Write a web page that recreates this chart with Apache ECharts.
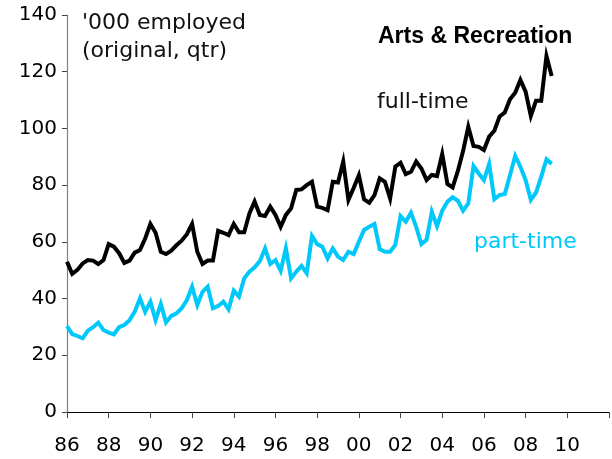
<!DOCTYPE html>
<html>
<head>
<meta charset="utf-8">
<script src="https://cdn.jsdelivr.net/npm/echarts@6/dist/echarts.min.js"></script>
<style>
  html, body { margin: 0; padding: 0; background: #fff; }
  #chart { width: 612px; height: 459px; }
</style>
</head>
<body>
<div id="chart"></div>
<script>
// Arts & Recreation employment, '000 persons, quarterly (original series)
const firstYear = 1986;

const fullTime = [
  53.0, 48.7, 50.1, 52.4, 53.6, 53.4, 52.2, 53.6, 59.2, 58.3,
  56.0, 52.6, 53.4, 56.2, 57.1, 61.2, 66.3, 63.2, 56.5, 55.7,
  56.9, 58.8, 60.4, 62.7, 66.3, 56.5, 52.2, 53.4, 53.4, 63.9,
  63.2, 62.4, 66.3, 63.4, 63.4, 70.0, 74.2, 69.5, 69.1, 72.4,
  69.5, 65.3, 69.5, 71.8, 78.3, 78.5, 80.0, 81.2, 72.4, 72.0,
  71.2, 81.2, 80.9, 88.3, 74.8, 79.0, 83.5, 75.0, 73.8, 76.5,
  82.4, 81.2, 75.3, 86.5, 87.9, 83.9, 84.7, 88.3, 85.9, 81.8,
  83.6, 83.2, 91.0, 80.4, 79.2, 85.0, 92.0, 100.6, 93.8, 93.5,
  92.4, 97.1, 99.2, 104.2, 105.6, 110.3, 112.6, 117.1, 113.0, 104.4,
  109.8, 109.8, 125.5, 118.5
];

const partTime = [
  30.3, 27.5, 26.8, 26.0, 28.7, 29.9, 31.5, 28.9, 28.0, 27.4,
  29.9, 30.7, 32.4, 35.4, 40.1, 35.3, 38.9, 32.4, 38.1, 31.6,
  33.9, 34.8, 36.6, 39.5, 44.2, 37.7, 42.4, 44.2, 36.6, 37.4,
  38.9, 36.2, 42.8, 40.7, 47.1, 49.5, 51.0, 53.2, 57.7, 52.2,
  53.6, 49.8, 57.7, 47.1, 49.5, 51.5, 48.9, 62.1, 59.2, 58.3,
  54.2, 57.7, 54.8, 53.6, 56.5, 55.7, 60.0, 64.2, 65.3, 66.3,
  57.4, 56.5, 56.5, 58.9, 69.1, 67.1, 70.3, 65.3, 59.2, 60.7,
  70.6, 65.5, 71.0, 74.2, 75.7, 74.5, 71.0, 73.6, 86.7, 84.1,
  81.8, 87.5, 75.0, 76.5, 76.9, 83.5, 90.3, 86.5, 81.8, 74.8,
  77.4, 83.0, 89.1, 87.5
];

// Axis ticks
const xTickYears = [1986, 1988, 1990, 1992, 1994, 1996, 1998, 2000, 2002, 2004, 2006, 2008, 2010];
const yTicks = [0, 20, 40, 60, 80, 100, 120, 140];

// Quarter time stamps (decimal years)
const quarterTime = fullTime.map((_, i) => firstYear + i / 4);
const pairs = (vals) => vals.map((v, i) => [quarterTime[i], v]);

const BLUE = '#00C8FA';
const FONT = 'DejaVu Sans';

const chart = echarts.init(document.getElementById('chart'), null, { renderer: 'canvas' });

chart.setOption({
  animation: false,
  backgroundColor: '#ffffff',
  grid: { left: 67, right: 3, top: 15, bottom: 47, containLabel: false },
  xAxis: {
    type: 'value',
    min: 1986,
    max: 2012,
    interval: 2,
    axisLine: { show: true, lineStyle: { color: '#000', width: 1.2 } },
    axisTick: { show: true, inside: false, length: 6, lineStyle: { color: '#444', width: 1 } },
    splitLine: { show: false },
    axisLabel: {
      margin: 24,
      fontFamily: FONT,
      fontSize: 20,
      color: '#000',
      formatter: (v) => xTickYears.includes(v) ? String(v % 100).padStart(2, '0') : ''
    }
  },
  yAxis: {
    type: 'value',
    min: yTicks[0],
    max: yTicks[yTicks.length - 1],
    interval: 20,
    axisLine: { show: true, lineStyle: { color: '#808080', width: 1.2 } },
    axisTick: { show: true, inside: false, length: 5, lineStyle: { color: '#444', width: 1 } },
    splitLine: { show: false },
    axisLabel: {
      margin: 10,
      fontFamily: FONT,
      fontSize: 20,
      color: '#000'
    }
  },
  series: [
    {
      name: 'full-time',
      type: 'line',
      data: pairs(fullTime),
      showSymbol: false,
      lineStyle: { color: '#000', width: 4, join: 'miter' },
      z: 3
    },
    {
      name: 'part-time',
      type: 'line',
      data: pairs(partTime),
      showSymbol: false,
      lineStyle: { color: BLUE, width: 4, join: 'miter' },
      z: 2
    }
  ],
  graphic: [
    { type: 'text', left: 82, top: 12,
      style: { text: "'000 employed", font: `22px "${FONT}"`, fill: '#111' } },
    { type: 'text', left: 82, top: 40,
      style: { text: '(original, qtr)', font: `22px "${FONT}"`, fill: '#111' } },
    { type: 'text', left: 378, top: 25,
      style: { text: 'Arts & Recreation', font: `bold 23px "Liberation Sans"`, fill: '#000' } },
    { type: 'text', left: 377, top: 91,
      style: { text: 'full-time', font: `22px "${FONT}"`, fill: '#111' } },
    { type: 'text', left: 474, top: 231,
      style: { text: 'part-time', font: `22px "${FONT}"`, fill: BLUE } }
  ]
});
</script>
</body>
</html>
